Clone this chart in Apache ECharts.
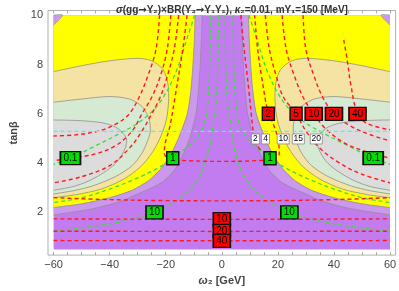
<!DOCTYPE html>
<html><head><meta charset="utf-8">
<script src="https://cdn.jsdelivr.net/npm/echarts@6/dist/echarts.min.js"></script>
<style>html,body{margin:0;padding:0;background:#fff}#c{width:399px;height:291px}</style>
</head><body><div id="c"></div><script>
// ---- tick labels ----
const xTicks = [-60,-40,-20,0,20,40,60];
const yTicks = [2,4,6,8,10];
const xMinor = [-60,-55,-50,-45,-40,-35,-30,-25,-20,-15,-10,-5,0,5,10,15,20,25,30,35,40,45,50,55,60];
const yMinor = [1,2,3,4,5,6,7,8,9,10];

// ---- filled region edges (left half, [omega2, tanb]) ----
const lavenderEdge = [[-7,10],[-7.3,9],[-7.7,8],[-8.3,7],[-9.2,6],[-11.5,5],[-14,4.3],[-17,3.7],[-21,3.25],[-25,3.0],[-30,2.75],[-36,2.45],[-46,2.15],[-60,1.9]];
const yellowEdge = [[-9.5,10],[-9.8,9],[-10.3,8],[-11,7],[-12.3,6],[-15.5,5],[-18,4.4],[-21.5,3.8],[-26,3.3],[-32,2.9],[-40,2.6],[-50,2.35],[-60,2.2]];
const wheatEdge = [[-60,7.71],[-50,7.95],[-40,8.15],[-30,8.25],[-25,8.15],[-21,7.8],[-19.2,7.2],[-19,6.5],[-19.7,5.8],[-21,5.3],[-22.5,4.9],[-25,4.4],[-29,3.85],[-35,3.35],[-43,2.95],[-52,2.72],[-60,2.6]];
const greenEdge = [[-60,6.47],[-50,6.6],[-40,6.7],[-33,6.6],[-28.5,6.3],[-26,5.8],[-25.5,5.3],[-26.5,4.9],[-28.5,4.4],[-32,3.9],[-38,3.45],[-46,3.08],[-53,2.88],[-60,2.75]];
const grayEdge = [[-60,5.75],[-50,5.72],[-42,5.62],[-37,5.4],[-34,5.0],[-34.5,4.6],[-37,4.1],[-41,3.7],[-47,3.3],[-53,3.05],[-60,2.9]];
const cornerEdge = [[-60,10],[-56.8,10],[-60,9.6]];

// ---- red dashed contours ----
const redU = [[-12.4,10],[-13.9,8.63],[-16.7,6.67],[-18.5,5.5],[-20.2,4.8],[-20.5,4.4],[-19,4.18],[-12,4.1],[0,4.07],[12,4.1],[19,4.18],[20.5,4.4],[20,5.0],[18.3,5.6],[16.6,6],[14.2,7.5],[12.8,8.6],[11.7,10]];
const redA = [[6.8,10],[7.6,9],[8.6,8],[9.6,7],[10.5,6],[11.2,5.3],[12.3,4.8],[14,4.5]];
const red5 = [[15.5,10],[17,8.6],[19.5,7.5],[22,6.67],[26.5,6],[30,5.3],[35,4.6],[42,4.0],[50,3.55],[60,3.2]];
const red10 = [[21.5,10],[23,8.6],[26,7.5],[29,6.67],[32.8,6],[37,5.4],[44,4.8],[52,4.45],[60,4.2]];
const red20 = [[29,10],[30,8.6],[33,7.5],[36,6.67],[40,6],[46,5.5],[53,5.15],[60,4.9]];
const red40 = [[43.5,9],[44.7,8.2],[46,7.2],[48.4,6],[52,5.6],[60,5.35]];
const redL1 = [[-15.4,10],[-17,8.6],[-19.5,7.5],[-22,6.67],[-25,6],[-28.5,5.3],[-33,4.6],[-40,3.9],[-50,3.45],[-60,3.2]];
const redL2 = [[-18.2,10],[-19.5,8.6],[-22,7.5],[-25,6.67],[-28.5,6],[-32,5.3],[-38,4.7],[-46,4.35],[-60,4.1]];
const redL3 = [[-22.2,10],[-23.5,8.6],[-26.5,7.5],[-29.5,6.67],[-33,6],[-37.5,5.6],[-44,5.3],[-52,5.15],[-60,5.1]];
const redH1 = [[-60,2.6],[-40,2.52],[-20,2.48],[0,2.47],[20,2.48],[40,2.52],[60,2.6]];
const redH10 = [[-60,1.74],[0,1.72],[60,1.74]];
const redH20 = [[-60,1.24],[0,1.23],[60,1.24]];
const redH40 = [[-60,0.86],[0,0.85],[60,0.86]];

// ---- green dashed contours (left half) ----
const green01 = [[-9.7,10],[-12,9.2],[-16.7,7.6],[-22.5,6.4],[-29,5.7],[-36.5,5.2],[-46,4.65],[-54,4.2],[-60,3.95]];
const green1 = [[-4,10],[-4.3,8],[-5,6.5],[-6.5,5.5],[-10,4.9],[-14,4.5],[-17.5,4.2],[-22,3.85],[-30,3.4],[-40,2.95],[-50,2.6],[-60,2.4]];
const green10 = [[-1.2,10],[-1.4,8],[-2,6.5],[-3.2,5.5],[-4.5,4.6],[-7,3.7],[-10,3.1],[-13.2,2.75],[-18,2.35],[-24,2.0],[-35,1.65],[-48,1.4],[-60,1.25]];

// ---- cyan line ----
const cyanLine = [[-60,5.29],[60,5.29]];

// ---- labels ----
const greenLabels = [[-54,4.2,'0.1'],[54,4.2,'0.1'],[-17.5,4.2,'1'],[17.2,4.2,'1'],[-24,2.0,'10'],[24.1,2.0,'10']];
const redLabels = [[16.6,6,'2'],[26.5,6,'5'],[32.8,6,'10'],[40,6,'20'],[48.4,6,'40'],[0,1.73,'10'],[0,1.25,'20'],[0,0.85,'40']];
const whiteLabels = [[12,4.98,'2'],[15.6,4.98,'4'],[21.9,4.98,'10'],[27.3,4.98,'15'],[33.7,4.98,'20']];

const mirror = a => a.map(p => [-p[0], p[1]]);

const C = {
  purple:'#c27cf0', lavender:'#cb98ee', yellow:'#ffff00', wheat:'#f4e3a2', green:'#d6e9d2', gray:'#dcdcdc',
  edge:'#8f8f8f', red:'#ff1a1a', grn:'#3fdc3f', cyan:'#55eef0'
};

const measureCtx = document.createElement('canvas').getContext('2d');
function textW(t, fs) { measureCtx.font = fs + 'px "Liberation Sans"'; return measureCtx.measureText(t).width; }

function polySeries(pts, fill, closeCorner, z) {
  return {
    type:'custom', coordinateSystem:'cartesian2d', silent:true, z:z, clip:true,
    data:[[pts[0][0], pts[0][1]]],
    renderItem:(params, api) => {
      const all = closeCorner ? pts.concat([closeCorner]) : pts;
      const poly = all.map(p => api.coord(p));
      const line = pts.map(p => api.coord(p));
      return {type:'group', children:[
        {type:'polygon', shape:{points:poly}, style:{fill:fill}},
        {type:'polyline', shape:{points:line, smooth:0.3}, style:{fill:null, stroke:C.edge, lineWidth:0.8}}
      ]};
    }
  };
}
function bgSeries() {
  return {
    type:'custom', coordinateSystem:'cartesian2d', silent:true, z:1, data:[[-60,0.5]],
    renderItem:(params, api) => {
      const a = api.coord([-60,10]), b = api.coord([60,0.5]);
      return {type:'rect', shape:{x:a[0], y:a[1], width:b[0]-a[0], height:b[1]-a[1]}, style:{fill:C.purple}};
    }
  };
}
function lineSeries(data, color, z, width, dash) {
  return {type:'line', data:data, smooth:0.35, symbol:'none', silent:true, z:z,
    lineStyle:{color:color, width:width||1.3, type:dash||[4,3]}};
}
function labelSeries(data, bg, border, bw, fs, padW, h) {
  return {type:'scatter', silent:true, z:30, symbol:'rect',
    data:data.map(d => ({name:d[2], value:[d[0], d[1]], symbolSize:[Math.round(textW(d[2], fs) + padW), h]})),
    itemStyle:{color:bg, borderColor:border, borderWidth:bw, opacity:1},
    label:{show:true, position:'inside', formatter:'{b}', color:'#000', fontSize:fs, fontFamily:'Liberation Sans'}};
}

const series = [bgSeries()];
[[lavenderEdge, C.lavender, [-60,10]], [yellowEdge, C.yellow, [-60,10]], [wheatEdge, C.wheat, null], [greenEdge, C.green, null], [grayEdge, C.gray, null], [cornerEdge, C.lavender, null]]
  .forEach((r, i) => {
    series.push(polySeries(r[0], r[1], r[2], 2 + i));
    series.push(polySeries(mirror(r[0]), r[1], r[2] ? mirror([r[2]])[0] : null, 2 + i));
  });
[green01, green1, green10].forEach(g => { series.push(lineSeries(g, C.grn, 12)); series.push(lineSeries(mirror(g), C.grn, 12)); });
[redU, redA, red5, red10, red20, red40, redL1, redL2, redL3, redH1, redH10, redH20, redH40]
  .forEach(r => series.push(lineSeries(r, C.red, 14, 1.4)));
series.push(lineSeries(cyanLine, C.cyan, 15, 1.3));
series.push(labelSeries(greenLabels, '#00e000', '#111', 1.5, 10, 6, 13));
series.push(labelSeries(redLabels, '#ff0000', '#111', 1.5, 10, 6, 13));
series.push(labelSeries(whiteLabels, '#ffffff', '#888', 0.8, 8.5, 3, 10));

const tickCommon = {show:true, inside:true, length:3, lineStyle:{color:'#999', width:0.8}};
const tStyle = {fontWeight:'bold', fontSize:10, color:'#333', fontFamily:'Liberation Sans'};
const chart = echarts.init(document.getElementById('c'), null, {renderer:'canvas'});
chart.setOption({
  animation:false,
  backgroundColor:'#fff',
  title:{text:'{i|σ}(gg{a|→}Y₂)×BR(Y₂{a|→}Y₁Y₁), {i|κ}₂=0.01, mY₁=150 [MeV]', left:227, top:0, textAlign:'center',
    textStyle:Object.assign({rich:{
      i:Object.assign({}, tStyle, {fontStyle:'italic'}),
      a:Object.assign({}, tStyle, {fontFamily:'DejaVu Sans'})
    }}, tStyle)},
  grid:{left:40, right:2.3, top:10.5, bottom:28, show:true, borderColor:'#b0b0b0', borderWidth:1, backgroundColor:'transparent'},
  xAxis:[
    {type:'value', min:-62, max:62, position:'bottom', axisLine:{show:false}, splitLine:{show:false},
     axisTick:Object.assign({customValues:xMinor}, tickCommon),
     axisLabel:{customValues:xTicks, margin:4, fontSize:11, color:'#444', fontFamily:'Liberation Sans', formatter:v => v < 0 ? '−' + (-v) : String(v)},
     name:'{w|ω}₂ [GeV]', nameLocation:'middle', nameGap:17,
     nameTextStyle:{fontSize:11, fontWeight:'bold', color:'#444', fontFamily:'Liberation Sans', rich:{w:{fontStyle:'italic', fontWeight:'bold', fontSize:11, color:'#444'}}}},
    {type:'value', min:-62, max:62, position:'top', axisLine:{show:false}, splitLine:{show:false},
     axisTick:Object.assign({customValues:xMinor}, tickCommon), axisLabel:{show:false}}
  ],
  yAxis:[
    {type:'value', min:0.27, max:10.19, position:'left', axisLine:{show:false}, splitLine:{show:false},
     axisTick:Object.assign({customValues:yMinor}, tickCommon),
     axisLabel:{customValues:yTicks, margin:5, fontSize:11, color:'#444', fontFamily:'Liberation Sans'},
     name:'tanβ', nameLocation:'middle', nameGap:29, nameRotate:90,
     nameTextStyle:{fontSize:11, fontWeight:'bold', color:'#444', fontFamily:'Liberation Sans'}},
    {type:'value', min:0.27, max:10.19, position:'right', axisLine:{show:false}, splitLine:{show:false},
     axisTick:Object.assign({customValues:yMinor}, tickCommon), axisLabel:{show:false}}
  ],
  series:series
});
</script></body></html>
